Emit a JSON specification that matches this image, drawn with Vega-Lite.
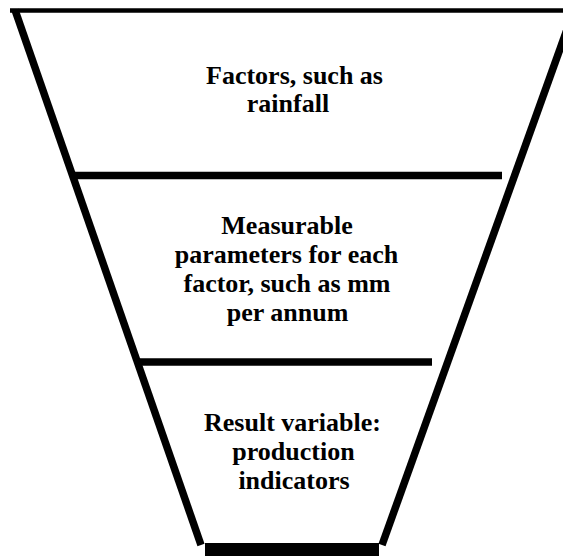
{
  "$schema": "https://vega.github.io/schema/vega-lite/v6.json",
  "width": 563,
  "height": 556,
  "padding": 0,
  "autosize": {"type": "none"},
  "background": "white",
  "config": {"view": {"stroke": null}},
  "datasets": {
    "lines": [
      {"part": "top", "x1": 10, "y1": 10.5, "x2": 580, "y2": 10.5},
      {"part": "edge", "x1": 15, "y1": 10, "x2": 201, "y2": 545},
      {"part": "edge", "x1": 574, "y1": 10, "x2": 382, "y2": 545},
      {"part": "divider", "x1": 72, "y1": 175.5, "x2": 502, "y2": 175.5},
      {"part": "divider", "x1": 137, "y1": 362, "x2": 432, "y2": 362},
      {"part": "base", "x1": 205, "y1": 550, "x2": 379, "y2": 550}
    ],
    "labels": [
      {"text": "Factors, such as", "x": 294.5, "y": 83.5},
      {"text": "rainfall", "x": 288, "y": 111.5},
      {"text": "Measurable", "x": 287, "y": 233.5},
      {"text": "parameters for each", "x": 286.5, "y": 262.5},
      {"text": "factor, such as mm", "x": 287, "y": 291.5},
      {"text": "per annum", "x": 287.5, "y": 320.5},
      {"text": "Result variable:", "x": 292.5, "y": 431},
      {"text": "production", "x": 293.5, "y": 460},
      {"text": "indicators", "x": 294, "y": 489}
    ]
  },
  "layer": [
    {
      "data": {"name": "lines"},
      "transform": [{"filter": "datum.part === 'top'"}],
      "mark": {"type": "rule", "color": "black", "strokeWidth": 4.5, "strokeCap": "butt"},
      "encoding": {
        "x": {"field": "x1", "type": "quantitative", "scale": {"domain": [0, 563], "nice": false, "zero": false}, "axis": null},
        "x2": {"field": "x2"},
        "y": {"field": "y1", "type": "quantitative", "scale": {"domain": [0, 556], "nice": false, "zero": false, "reverse": true}, "axis": null},
        "y2": {"field": "y2"}
      }
    },
    {
      "data": {"name": "lines"},
      "transform": [{"filter": "datum.part === 'edge'"}],
      "mark": {"type": "rule", "color": "black", "strokeWidth": 7.5, "strokeCap": "butt"},
      "encoding": {
        "x": {"field": "x1", "type": "quantitative", "scale": {"domain": [0, 563], "nice": false, "zero": false}, "axis": null},
        "x2": {"field": "x2"},
        "y": {"field": "y1", "type": "quantitative", "scale": {"domain": [0, 556], "nice": false, "zero": false, "reverse": true}, "axis": null},
        "y2": {"field": "y2"}
      }
    },
    {
      "data": {"name": "lines"},
      "transform": [{"filter": "datum.part === 'divider'"}],
      "mark": {"type": "rule", "color": "black", "strokeWidth": 7.5, "strokeCap": "butt"},
      "encoding": {
        "x": {"field": "x1", "type": "quantitative", "scale": {"domain": [0, 563], "nice": false, "zero": false}, "axis": null},
        "x2": {"field": "x2"},
        "y": {"field": "y1", "type": "quantitative", "scale": {"domain": [0, 556], "nice": false, "zero": false, "reverse": true}, "axis": null},
        "y2": {"field": "y2"}
      }
    },
    {
      "data": {"name": "lines"},
      "transform": [{"filter": "datum.part === 'base'"}],
      "mark": {"type": "rule", "color": "black", "strokeWidth": 14, "strokeCap": "butt"},
      "encoding": {
        "x": {"field": "x1", "type": "quantitative", "scale": {"domain": [0, 563], "nice": false, "zero": false}, "axis": null},
        "x2": {"field": "x2"},
        "y": {"field": "y1", "type": "quantitative", "scale": {"domain": [0, 556], "nice": false, "zero": false, "reverse": true}, "axis": null},
        "y2": {"field": "y2"}
      }
    },
    {
      "data": {"name": "labels"},
      "mark": {"type": "text", "font": "Liberation Serif", "fontWeight": "bold", "fontSize": 26, "align": "center", "baseline": "alphabetic", "color": "black"},
      "encoding": {
        "x": {"field": "x", "type": "quantitative", "scale": {"domain": [0, 563], "nice": false, "zero": false}, "axis": null},
        "y": {"field": "y", "type": "quantitative", "scale": {"domain": [0, 556], "nice": false, "zero": false, "reverse": true}, "axis": null},
        "text": {"field": "text"}
      }
    }
  ]
}
